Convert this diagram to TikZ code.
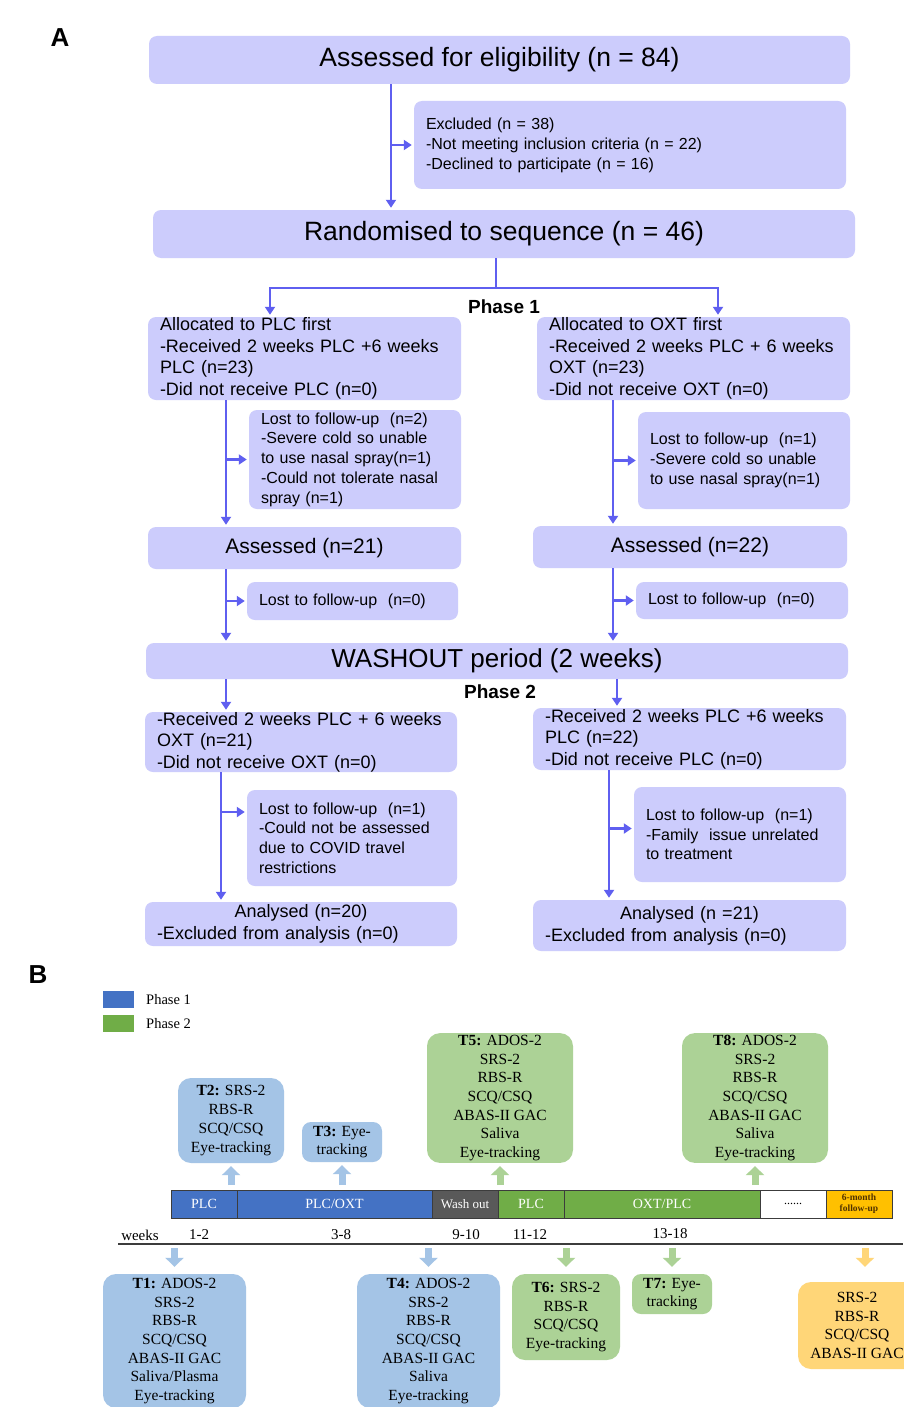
\documentclass[tikz,border=0pt]{standalone}
\usepackage{fontspec}
\setmainfont{Liberation Serif}
\newfontfamily\arial{Liberation Sans}
\usetikzlibrary{arrows.meta,positioning}

\definecolor{lav}{RGB}{204,204,252}
\definecolor{flowblue}{RGB}{95,95,240}
\definecolor{phaseblue}{RGB}{68,114,196}
\definecolor{phasegreen}{RGB}{112,173,71}
\definecolor{washgrey}{RGB}{89,89,89}
\definecolor{fuorange}{RGB}{255,192,0}
\definecolor{lblue}{RGB}{164,196,230}
\definecolor{lgreen}{RGB}{172,210,150}
\definecolor{lorange}{RGB}{255,214,120}
\definecolor{darkline}{RGB}{60,60,60}

\newcommand{\fsz}[2]{\fontsize{#1}{#2}\selectfont}

\tikzset{
  fbox/.style={fill=lav, rounded corners=8pt, inner xsep=12pt, inner ysep=0pt, align=left},
  flow/.style={draw=flowblue, line width=2.5pt, shorten >=2pt, -{Triangle[width=10pt,length=8pt]}},
  tbox/.style={rounded corners=13pt, align=center, inner sep=2pt, font=\fsz{15.5}{18.7}},
  seg/.style={draw=darkline, line width=1pt, minimum height=28pt, inner sep=0pt, outer sep=0pt, text=white, font=\fsz{14}{16}},
  fat/.style={line width=7pt, -{Triangle[width=18pt,length=9pt]}},
  wk/.style={font=\fsz{15}{17}, inner sep=0pt}
}

\begin{document}
\begin{tikzpicture}[x=1pt,y=-1pt]
\useasboundingbox (0,0) rectangle (903,1407);
\fill[white] (0,0) rectangle (903,1407);

% ---- A: flow of participants
\node[font=\arial\bfseries\fsz{26}{28}] (labA) at (60,38) {A};

\node[fbox, align=center, minimum width=701pt, minimum height=48pt, font=\arial\fsz{26.5}{30}] (elig) at (499.5,60) {Assessed for eligibility (n = 84)};
\node[fbox, text width=408pt, minimum height=88pt, font=\arial\fsz{16}{20}] (excl) at (630,145)
  {Excluded (n = 38)\\-Not meeting inclusion criteria (n = 22)\\-Declined to participate (n = 16)};
\node[fbox, align=center, minimum width=702pt, minimum height=48pt, font=\arial\fsz{26.5}{30}] (rand) at (504,234) {Randomised to sequence (n = 46)};

\node[font=\arial\bfseries\fsz{19}{21}] (ph1) at (504,307) {Phase 1};

\node[fbox, text width=289pt, minimum height=83pt, font=\arial\fsz{18}{21.5}] (allocP) at (304.5,358.5)
  {Allocated to PLC first\\-Received 2 weeks PLC +6 weeks\\PLC (n=23)\\-Did not receive PLC (n=0)};
\node[fbox, text width=289pt, minimum height=83pt, font=\arial\fsz{18}{21.5}] (allocO) at (693.5,358.5)
  {Allocated to OXT first\\-Received 2 weeks PLC + 6 weeks\\OXT (n=23)\\-Did not receive OXT (n=0)};

\node[fbox, text width=188pt, minimum height=99pt, font=\arial\fsz{16}{19.7}] (lostP1) at (355,459.5)
  {Lost to follow-up~~(n=2)\\-Severe cold so unable\\to use nasal spray(n=1)\\-Could not tolerate nasal\\spray (n=1)};
\node[fbox, text width=188pt, minimum height=97pt, font=\arial\fsz{16}{19.7}] (lostO1) at (744,460.5)
  {Lost to follow-up~~(n=1)\\-Severe cold so unable\\to use nasal spray(n=1)};

\node[fbox, align=center, minimum width=313pt, minimum height=42pt, font=\arial\fsz{21}{24}] (assP) at (304.5,548) {Assessed (n=21)};
\node[fbox, align=center, minimum width=314pt, minimum height=42pt, font=\arial\fsz{21}{24}] (assO) at (690,547) {Assessed (n=22)};

\node[fbox, text width=187pt, minimum height=38pt, font=\arial\fsz{16}{19}] (lostP0) at (352.5,601) {Lost to follow-up~~(n=0)};
\node[fbox, text width=188pt, minimum height=37pt, font=\arial\fsz{16}{19}] (lostO0) at (742,600.5) {Lost to follow-up~~(n=0)};

\node[fbox, align=center, minimum width=702pt, minimum height=36pt, font=\arial\fsz{26}{30}] (wash) at (497,661) {WASHOUT period (2 weeks)};

\node[font=\arial\bfseries\fsz{19}{21}] (ph2) at (500,692) {Phase 2};

\node[fbox, text width=288pt, minimum height=60pt, font=\arial\fsz{18}{21.5}] (p2L) at (301,742)
  {-Received 2 weeks PLC + 6 weeks\\OXT (n=21)\\-Did not receive OXT (n=0)};
\node[fbox, text width=289pt, minimum height=62pt, font=\arial\fsz{18}{21.5}] (p2R) at (689.5,739)
  {-Received 2 weeks PLC +6 weeks\\PLC (n=22)\\-Did not receive PLC (n=0)};

\node[fbox, text width=186pt, minimum height=96pt, font=\arial\fsz{16}{19.6}] (lostP2L) at (352,838)
  {Lost to follow-up~~(n=1)\\-Could not be assessed\\due to COVID travel\\restrictions};
\node[fbox, text width=188pt, minimum height=95pt, font=\arial\fsz{16}{19.6}] (lostP2R) at (740,834.5)
  {Lost to follow-up~~(n=1)\\-Family~ issue unrelated\\to treatment};

\node[fbox, text width=288pt, minimum height=44pt, font=\arial\fsz{18}{22}] (anL) at (301,924)
  {\makebox[\linewidth]{Analysed (n=20)}\\-Excluded from analysis (n=0)};
\node[fbox, text width=289pt, minimum height=51pt, font=\arial\fsz{18}{22}] (anR) at (689.5,925.5)
  {\makebox[\linewidth]{Analysed (n =21)}\\-Excluded from analysis (n=0)};

% connectors
\coordinate (eX) at (391,0);
\coordinate (sp) at (496,288);
\coordinate (spL) at (270,288);
\coordinate (spR) at (718,288);
\coordinate (lX) at (226,0);
\coordinate (rX) at (613,0);
\coordinate (rXb) at (617,0);
\coordinate (lX2) at (221,0);
\coordinate (rX2) at (609,0);

\draw[flow] (elig.south -| eX) -- (rand.north -| eX);
\draw[flow] (excl.west -| eX) -- (excl.west);
\draw[flow] (rand.south -| sp) -- (sp) -| (allocP.north -| spL);
\draw[flow] (rand.south -| sp) -- (sp) -| (allocO.north -| spR);

\draw[flow] (allocP.south -| lX) -- (assP.north -| lX);
\draw[flow] (lostP1.west -| lX) -- (lostP1.west);
\draw[flow] (allocO.south -| rX) -- (assO.north -| rX);
\draw[flow] (lostO1.west -| rX) -- (lostO1.west);

\draw[flow] (assP.south -| lX) -- (wash.north -| lX);
\draw[flow] (lostP0.west -| lX) -- (lostP0.west);
\draw[flow] (assO.south -| rX) -- (wash.north -| rX);
\draw[flow] (lostO0.west -| rX) -- (lostO0.west);

\draw[flow] (wash.south -| lX) -- (p2L.north -| lX);
\draw[flow] (wash.south -| rXb) -- (p2R.north -| rXb);

\draw[flow] (p2L.south -| lX2) -- (anL.north -| lX2);
\draw[flow] ([yshift=26pt]lostP2L.west -| lX2) -- ([yshift=26pt]lostP2L.west);
\draw[flow] (p2R.south -| rX2) -- (anR.north -| rX2);
\draw[flow] ([yshift=6pt]lostP2R.west -| rX2) -- ([yshift=6pt]lostP2R.west);

% ---- B: timeline
\node[font=\arial\bfseries\fsz{26}{28}] (labB) at (38,975) {B};

\node[fill=phaseblue, minimum width=31pt, minimum height=17pt, inner sep=0pt] (leg1) at (118.5,999.5) {};
\node[fill=phasegreen, minimum width=31pt, minimum height=17pt, inner sep=0pt] (leg2) at (118.5,1023.5) {};
\node[anchor=west, font=\fsz{14.5}{16}, inner sep=0pt] (leg1t) at (146,1000) {Phase 1};
\node[anchor=west, font=\fsz{14.5}{16}, inner sep=0pt] (leg2t) at (146,1024) {Phase 2};

\node[seg, fill=phaseblue, minimum width=66pt] (sPLC1) at (204,1204) {PLC};
\node[seg, fill=phaseblue, minimum width=195pt, right=0pt of sPLC1] (sMix) {PLC/OXT};
\node[seg, fill=washgrey, minimum width=66pt, right=0pt of sMix, font=\fsz{13}{15}] (sWash) {Wash out};
\node[seg, fill=phasegreen, minimum width=66pt, right=0pt of sWash] (sPLC2) {PLC};
\node[seg, fill=phasegreen, minimum width=196pt, right=0pt of sPLC2] (sOXT) {OXT/PLC};
\node[seg, fill=white, text=black, minimum width=66pt, right=0pt of sOXT, font=\fsz{12}{14}] (sDots) {......};
\node[seg, fill=fuorange, text={rgb,255:red,80;green,50;blue,0}, minimum width=66pt, right=0pt of sDots, align=center, font=\bfseries\fsz{9.5}{11}] (sFU) {6-month\\follow-up};

% upper boxes
\node[tbox, fill=lblue, minimum width=106pt, minimum height=85pt] (T2) at (231,1120.5)
  {\textbf{T2:} SRS-2\\RBS-R\\SCQ/CSQ\\Eye-tracking};
\node[tbox, fill=lblue, minimum width=80pt, minimum height=40pt, rounded corners=9pt] (T3) at (342,1142)
  {\textbf{T3:} Eye-\\tracking};
\node[tbox, fill=lgreen, minimum width=146pt, minimum height=128pt] (T5) at (500,1098)
  {\textbf{T5:} ADOS-2\\SRS-2\\RBS-R\\SCQ/CSQ\\ABAS-II GAC\\Saliva\\Eye-tracking};
\node[tbox, fill=lgreen, minimum width=146pt, minimum height=128pt] (T8) at (755,1098)
  {\textbf{T8:} ADOS-2\\SRS-2\\RBS-R\\SCQ/CSQ\\ABAS-II GAC\\Saliva\\Eye-tracking};

\draw[fat, lblue, shorten <=5pt, shorten >=3pt] (T2.south |- sPLC1.north) -- (T2.south);
\draw[fat, lblue, shorten <=5pt, shorten >=3pt] (T3.south |- sMix.north) -- (T3.south);
\draw[fat, lgreen, shorten <=5pt, shorten >=3pt] (T5.south |- sWash.north) -- (T5.south);
\draw[fat, lgreen, shorten <=5pt, shorten >=3pt] (T8.south |- sOXT.north) -- (T8.south);

% weeks axis
\coordinate (wkL) at (118,1244);
\coordinate (wkR) at (903,1244);
\draw[darkline, line width=1.5pt] (wkL) -- (wkR);
\node[wk] (wk0) at (140,1235) {weeks};
\node[wk] (wk1) at (199,1235) {1-2};
\node[wk] (wk2) at (341,1235) {3-8};
\node[wk] (wk3) at (466,1235) {9-10};
\node[wk] (wk4) at (530,1235) {11-12};
\node[wk] (wk5) at (670,1234) {13-18};

% lower boxes
\node[tbox, fill=lblue, minimum width=143pt, minimum height=134pt] (T1) at (174.5,1341)
  {\textbf{T1:} ADOS-2\\SRS-2\\RBS-R\\SCQ/CSQ\\ABAS-II GAC\\Saliva/Plasma\\Eye-tracking};
\node[tbox, fill=lblue, minimum width=143pt, minimum height=134pt] (T4) at (428.5,1341)
  {\textbf{T4:} ADOS-2\\SRS-2\\RBS-R\\SCQ/CSQ\\ABAS-II GAC\\Saliva\\Eye-tracking};
\node[tbox, fill=lgreen, minimum width=108pt, minimum height=86pt] (T6) at (566,1317)
  {\textbf{T6:} SRS-2\\RBS-R\\SCQ/CSQ\\Eye-tracking};
\node[tbox, fill=lgreen, minimum width=80pt, minimum height=40pt, rounded corners=9pt] (T7) at (672,1294)
  {\textbf{T7:} Eye-\\tracking};
\node[tbox, fill=lorange, minimum width=130pt, minimum height=87pt] (T9) at (863,1325.5)
  {\hspace*{-12pt}SRS-2\\\hspace*{-12pt}RBS-R\\\hspace*{-12pt}SCQ/CSQ\\\hspace*{-12pt}ABAS-II GAC};

\coordinate (fuX) at (865,0);
\draw[fat, lblue, shorten <=4pt, shorten >=7pt] (T1.north |- wkR) -- (T1.north);
\draw[fat, lblue, shorten <=4pt, shorten >=7pt] (T4.north |- wkR) -- (T4.north);
\draw[fat, lgreen, shorten <=4pt, shorten >=7pt] (T6.north |- wkR) -- (T6.north);
\draw[fat, lgreen, shorten <=4pt, shorten >=7pt] (T7.north |- wkR) -- (T7.north);
\draw[fat, lorange, shorten <=4pt, shorten >=15pt] (fuX |- wkR) -- (T9.north -| fuX);
\end{tikzpicture}
\end{document}
